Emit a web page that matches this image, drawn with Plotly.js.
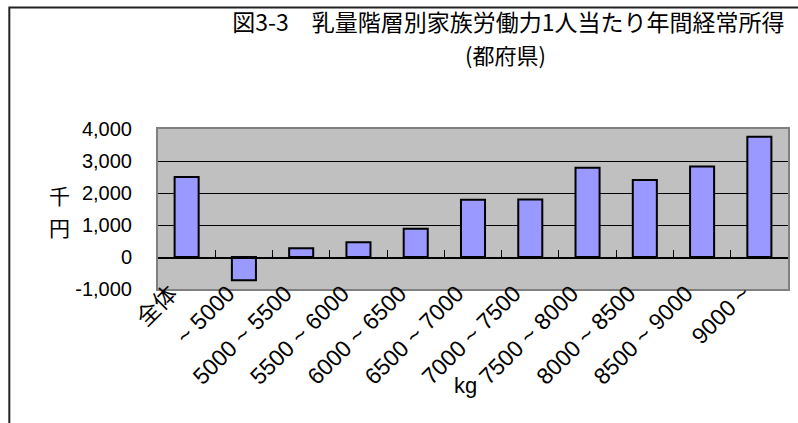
<!DOCTYPE html>
<html>
<head>
<meta charset="utf-8">
<script src="https://cdn.plot.ly/plotly-3.0.1.min.js"></script>
<style>html,body{margin:0;padding:0;background:#fff;}#chart{width:798px;height:423px;}</style>
</head>
<body>
<div id="chart"></div>
<script>
const categories = ["全体", "~ 5000", "5000 ~ 5500", "5500 ~ 6000", "6000 ~ 6500", "6500 ~ 7000", "7000 ~ 7500", "7500 ~ 8000", "8000 ~ 8500", "8500 ~ 9000", "9000 ~"];
const income = [2500, -730, 270, 460, 885, 1790, 1800, 2790, 2405, 2830, 3760];
const yTicks = [-1000, 0, 1000, 2000, 3000, 4000];
const yTickLabels = ["-1,000", "0", "1,000", "2,000", "3,000", "4,000"];
const titleLine1 = "図3-3　乳量階層別家族労働力1人当たり年間経常所得";
const titleLine2 = "(都府県)";
const yUnitChars = ["千", "円"];
const xUnit = "kg";

const yMin = -1000, yMax = 4000;

const traces = [
  {
    type: "bar",
    x: categories,
    y: income,
    marker: {color: "#9999FF", line: {color: "#000000", width: 2}},
    hoverinfo: "skip"
  },
  {
    type: "scatter",
    mode: "markers",
    x: categories,
    y: income,
    xaxis: "x2",
    marker: {opacity: 0},
    hoverinfo: "skip",
    showlegend: false
  }
];

const annotations = yUnitChars.map((c, i) => ({
  text: c, xref: "paper", yref: "paper", x: -0.156, y: 0.59 - i * 0.2,
  xanchor: "center", yanchor: "middle", showarrow: false,
  font: {family: "Noto Sans CJK JP, sans-serif", size: 21, color: "#000"}
}));
annotations.push({text: xUnit, xref: "paper", yref: "paper", x: 0.488, y: -0.6, xanchor: "center", yanchor: "middle",
  showarrow: false, font: {size: 22, color: "#000"}});
annotations.push({text: titleLine2, xref: "paper", yref: "paper", x: 0.552, y: 1.467, xanchor: "center", yanchor: "middle",
  showarrow: false, font: {family: "Noto Sans CJK JP, sans-serif", size: 22, color: "#000"}});

const layout = {
  width: 798, height: 423,
  margin: {l: 158, r: 10, t: 129, b: 134},
  paper_bgcolor: "#ffffff",
  plot_bgcolor: "#C0C0C0",
  showlegend: false,
  bargap: 0.58,
  font: {family: "Liberation Sans, Arial, Noto Sans CJK JP, sans-serif", color: "#000"},
  title: {
    text: titleLine1,
    x: 0.637, xanchor: "center", xref: "container",
    y: 0.945, yanchor: "middle", yref: "container",
    font: {family: "Noto Sans CJK JP, sans-serif", size: 23, color: "#000"}
  },
  xaxis: {
    type: "category",
    range: [-0.5, categories.length - 0.5],
    tickangle: -45,
    ticks: "",
    ticklabelshift: -16,
    ticklabelstandoff: -20,
    showgrid: false,
    zeroline: false,
    showline: true, mirror: true, linecolor: "#808080", linewidth: 2,
    tickfont: {size: 23, family: "Liberation Sans, Arial, Noto Sans CJK JP, sans-serif"}
  },
  xaxis2: {
    type: "category",
    overlaying: "x",
    anchor: "free",
    position: (0 - yMin) / (yMax - yMin),
    range: [-0.5, categories.length - 0.5],
    showline: true, linecolor: "#000", linewidth: 1.5,
    ticks: "inside", ticklen: 7, tickcolor: "#000", tickwidth: 1,
    tickson: "boundaries",
    showticklabels: false,
    showgrid: false,
    zeroline: false
  },
  yaxis: {
    range: [yMin, yMax],
    tickvals: yTicks,
    ticktext: yTickLabels,
    ticks: "inside", ticklen: 7, tickcolor: "#000",
    ticklabelstandoff: 20,
    showgrid: true, gridcolor: "#000", gridwidth: 1,
    zeroline: false,
    showline: true, mirror: true, linecolor: "#808080", linewidth: 2,
    tickfont: {size: 20}
  },
  annotations: annotations,
  shapes: [
    {type: "rect", xref: "paper", yref: "paper", x0: -0.236, x1: 1.5, y0: -3, y1: 1.76,
     line: {color: "#222", width: 2}, layer: "below"}
  ]
};

Plotly.newPlot("chart", traces, layout, {displayModeBar: false, staticPlot: true});
</script>
</body>
</html>
